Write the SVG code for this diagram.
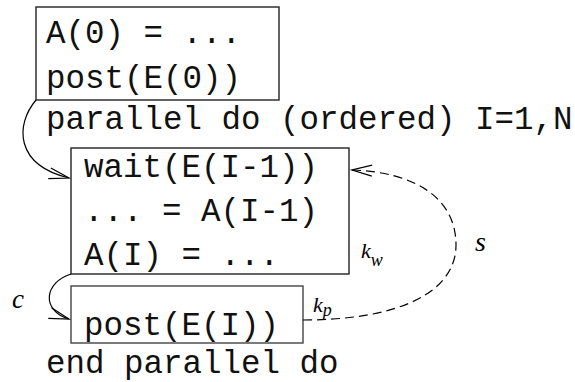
<svg xmlns="http://www.w3.org/2000/svg" width="575" height="382" viewBox="0 0 575 382">
  <style>
    .code { font-family: "Liberation Mono", "Courier New", monospace; font-size: 32.5px; fill: #111; }
    .box { fill: none; stroke: #222; stroke-width: 1.4; }
    .lbl { font-family: "Liberation Serif", "Times New Roman", serif; font-style: italic; fill: #000; }
    .conn { fill: none; stroke: #000; stroke-width: 1.2; }
    .dash { stroke-dasharray: 9 5; }
  </style>
  <defs>
    <marker id="vee" viewBox="-22 -8 24 16" refX="0" refY="0" markerWidth="24" markerHeight="16" markerUnits="userSpaceOnUse" orient="auto">
      <path d="M-20,-5.5 L0,0 L-20,5.5" fill="none" stroke="#000" stroke-width="1.2" stroke-dasharray="none"/>
    </marker>
  </defs>

  <!-- statements outside the loop -->
  <text class="code" x="46" y="129">parallel do (ordered) I=1,N</text>
  <text class="code" x="46" y="373">end parallel do</text>

  <g id="init">
    <rect class="box" x="36" y="7" width="243" height="93"/>
    <text class="code" x="46" y="43">A(0) = ...</text>
    <text class="code" x="46" y="88">post(E(0))</text>
  </g>

  <g id="body">
    <rect class="box" x="71" y="148" width="278" height="126"/>
    <text class="code" x="84" y="177">wait(E(I-1))</text>
    <text class="code" x="84" y="221">... = A(I-1)</text>
    <text class="code" x="84" y="265">A(I) = ...</text>
  </g>

  <g id="post">
    <rect class="box" x="71" y="286" width="232" height="57" style="stroke:#444"/>
    <text class="code" x="84" y="335">post(E(I))</text>
  </g>

  <g id="connectors">
    <path class="conn" d="M36,100 C15,125 15,165 69,178" marker-end="url(#vee)"/>
    <path class="conn" d="M71,274 C45,282 40,310 69,319" marker-end="url(#vee)"/>
    <path class="conn dash" d="M303,320 C400,320 456,292 456,245 C456,196 412,172 352,170" marker-end="url(#vee)"/>
  </g>

  <g id="labels">
    <text class="lbl" x="12" y="308" font-size="27">c</text>
    <text class="lbl" x="475" y="251" font-size="28">s</text>
    <text class="lbl" x="361" y="258" font-size="22">k<tspan font-size="18" dy="8">w</tspan></text>
    <text class="lbl" x="313" y="312" font-size="22">k<tspan font-size="18" dy="4">p</tspan></text>
  </g>
</svg>
